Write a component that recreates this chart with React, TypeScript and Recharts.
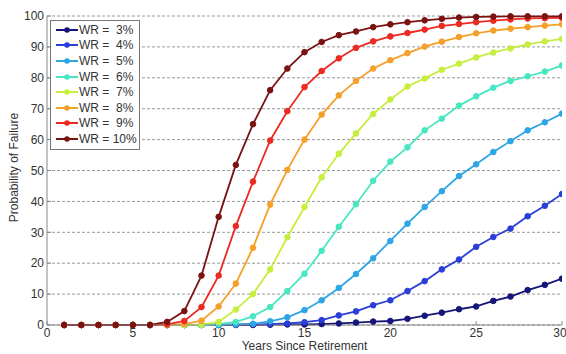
import React from "react";
import { CartesianGrid, Label, Line, LineChart, XAxis, YAxis } from "recharts";

const years = [1, 2, 3, 4, 5, 6, 7, 8, 9, 10, 11, 12, 13, 14, 15, 16, 17, 18, 19, 20, 21, 22, 23, 24, 25, 26, 27, 28, 29, 30];

const wr3 = [0, 0, 0, 0, 0, 0, 0, 0, 0, 0, 0, 0, 0.1, 0.2, 0.2, 0.3, 0.5, 0.8, 1.1, 1.3, 2, 3, 4, 5.1, 6, 7.8, 9.2, 11.3, 13, 15];
const wr4 = [0, 0, 0, 0, 0, 0, 0, 0, 0, 0, 0.1, 0.2, 0.3, 0.5, 0.9, 1.6, 3.1, 4.4, 6.4, 8, 11, 14.2, 18, 21.2, 25.3, 28.5, 31.2, 35.2, 38.6, 42.4];
const wr5 = [0, 0, 0, 0, 0, 0, 0, 0, 0, 0.1, 0.2, 0.4, 1.2, 2.5, 4.8, 8, 12, 16.5, 21.6, 27.2, 32.8, 38.2, 43.3, 48.2, 52, 56, 59.5, 63, 65.6, 68.4];
const wr6 = [0, 0, 0, 0, 0, 0, 0, 0, 0, 0.3, 1, 2.8, 5.8, 11, 16.6, 24, 31.8, 39.1, 46.7, 52.9, 57.5, 63, 66.8, 71, 74, 76.8, 79, 80.5, 82, 84];
const wr7 = [0, 0, 0, 0, 0, 0, 0, 0, 0.1, 1, 5, 10, 18, 28.4, 38.2, 47.8, 55.4, 62, 68.3, 73, 77.2, 79.8, 82.6, 84.6, 86.6, 88.2, 89.5, 90.8, 91.8, 92.6];
const wr8 = [0, 0, 0, 0, 0, 0, 0, 0.3, 1.4, 6, 13.4, 25, 39, 50.2, 60, 68.1, 74.3, 79, 83, 85.7, 88, 90.1, 91.7, 93.2, 94.4, 95.3, 95.9, 96.4, 96.9, 97.3];
const wr9 = [0, 0, 0, 0, 0, 0, 0.2, 1.3, 5.8, 16, 32, 46.4, 59.7, 69.2, 77, 82.2, 86.3, 89.7, 91.8, 93.4, 94.5, 95.6, 96.8, 97.4, 98, 98.5, 98.9, 99.2, 99.3, 99.4];
const wr10 = [0, 0, 0, 0, 0, 0, 1, 4.5, 16, 35, 51.8, 65, 76, 83, 88.3, 91.6, 93.8, 95, 96.4, 97.3, 98, 98.6, 99.1, 99.5, 99.7, 99.8, 99.9, 99.9, 99.9, 99.9];

const seriesNames = ["WR =  3%", "WR =  4%", "WR =  5%", "WR =  6%", "WR =  7%", "WR =  8%", "WR =  9%", "WR = 10%"];
const seriesColors = ["#15157a", "#2a3ed8", "#2ea6e6", "#48e6c2", "#c6ee3e", "#f5a02a", "#ec2a22", "#7a1212"];
const xTicks = [0, 5, 10, 15, 20, 25, 30];
const yTicks = [0, 10, 20, 30, 40, 50, 60, 70, 80, 90, 100];

const series = [wr3, wr4, wr5, wr6, wr7, wr8, wr9, wr10];

const data = years.map((year, i) => {
  const row: Record<string, number> = { year };
  series.forEach((s, k) => {
    row["s" + k] = s[i];
  });
  return row;
});

const font = "'Liberation Sans', Arial, sans-serif";
const axisColor = "#888";
const textColor = "#333";

const YTitle = (props: any) => {
  const vb = props.viewBox || { y: 16, height: 309 };
  const cx = 14;
  const cy = vb.y + vb.height / 2 - 3;
  return (
    <text
      x={cx}
      y={cy}
      transform={`rotate(-90, ${cx}, ${cy})`}
      textAnchor="middle"
      dominantBaseline="central"
      fontSize={12}
      fontFamily={font}
      fill={textColor}
    >
      Probability of Failure
    </text>
  );
};

const LegendBox = () => (
  <div
    style={{
      position: "absolute",
      left: 50,
      top: 20,
      width: 88,
      border: "1px solid #777",
      background: "#fff",
      padding: "1px 0 2px 0",
      fontFamily: font,
      fontSize: 12,
      color: textColor,
    }}
  >
    {seriesNames.map((name, k) => (
      <div key={name} style={{ display: "flex", alignItems: "center", height: 15.6 }}>
        <svg width={28} height={10} style={{ flex: "none" }}>
          <line x1={5} x2={27} y1={5} y2={5} stroke={seriesColors[k]} strokeWidth={2} />
          <circle cx={16} cy={5} r={2.8} fill={seriesColors[k]} />
        </svg>
        <span style={{ whiteSpace: "pre" }}>{name}</span>
      </div>
    ))}
  </div>
);

export default function App() {
  return (
    <div style={{ position: "absolute", left: 0, top: 0, width: 566, height: 354, background: "#fff" }}>
      <LineChart width={566} height={354} data={data} margin={{ top: 16, right: 4, bottom: 0, left: 0 }}>
        <CartesianGrid horizontal vertical={false} stroke="#999" strokeDasharray="3 2" />
        <XAxis
          dataKey="year"
          type="number"
          domain={[0, 30]}
          ticks={xTicks}
          height={29}
          stroke={axisColor}
          tickSize={-4}
          tickMargin={7}
          tick={{ fill: textColor, fontSize: 12, fontFamily: font }}
          allowDataOverflow
        >
          <Label
            value="Years Since Retirement"
            position="insideBottom"
            offset={4}
            style={{ fontSize: 12, fontFamily: font, fill: textColor }}
          />
        </XAxis>
        <YAxis
          type="number"
          domain={[0, 100]}
          ticks={yTicks}
          width={47}
          stroke={axisColor}
          tickSize={-4}
          tickMargin={7}
          interval={0}
          tick={{ fill: textColor, fontSize: 12, fontFamily: font }}
        >
          <Label content={YTitle} />
        </YAxis>
        {series.map((_, k) => (
          <Line
            key={k}
            type="linear"
            dataKey={"s" + k}
            name={seriesNames[k]}
            stroke={seriesColors[k]}
            strokeWidth={1.8}
            dot={{ r: 2.8, fill: seriesColors[k], stroke: seriesColors[k], strokeWidth: 1 }}
            activeDot={false}
            isAnimationActive={false}
          />
        ))}
      </LineChart>
      <LegendBox />
    </div>
  );
}
